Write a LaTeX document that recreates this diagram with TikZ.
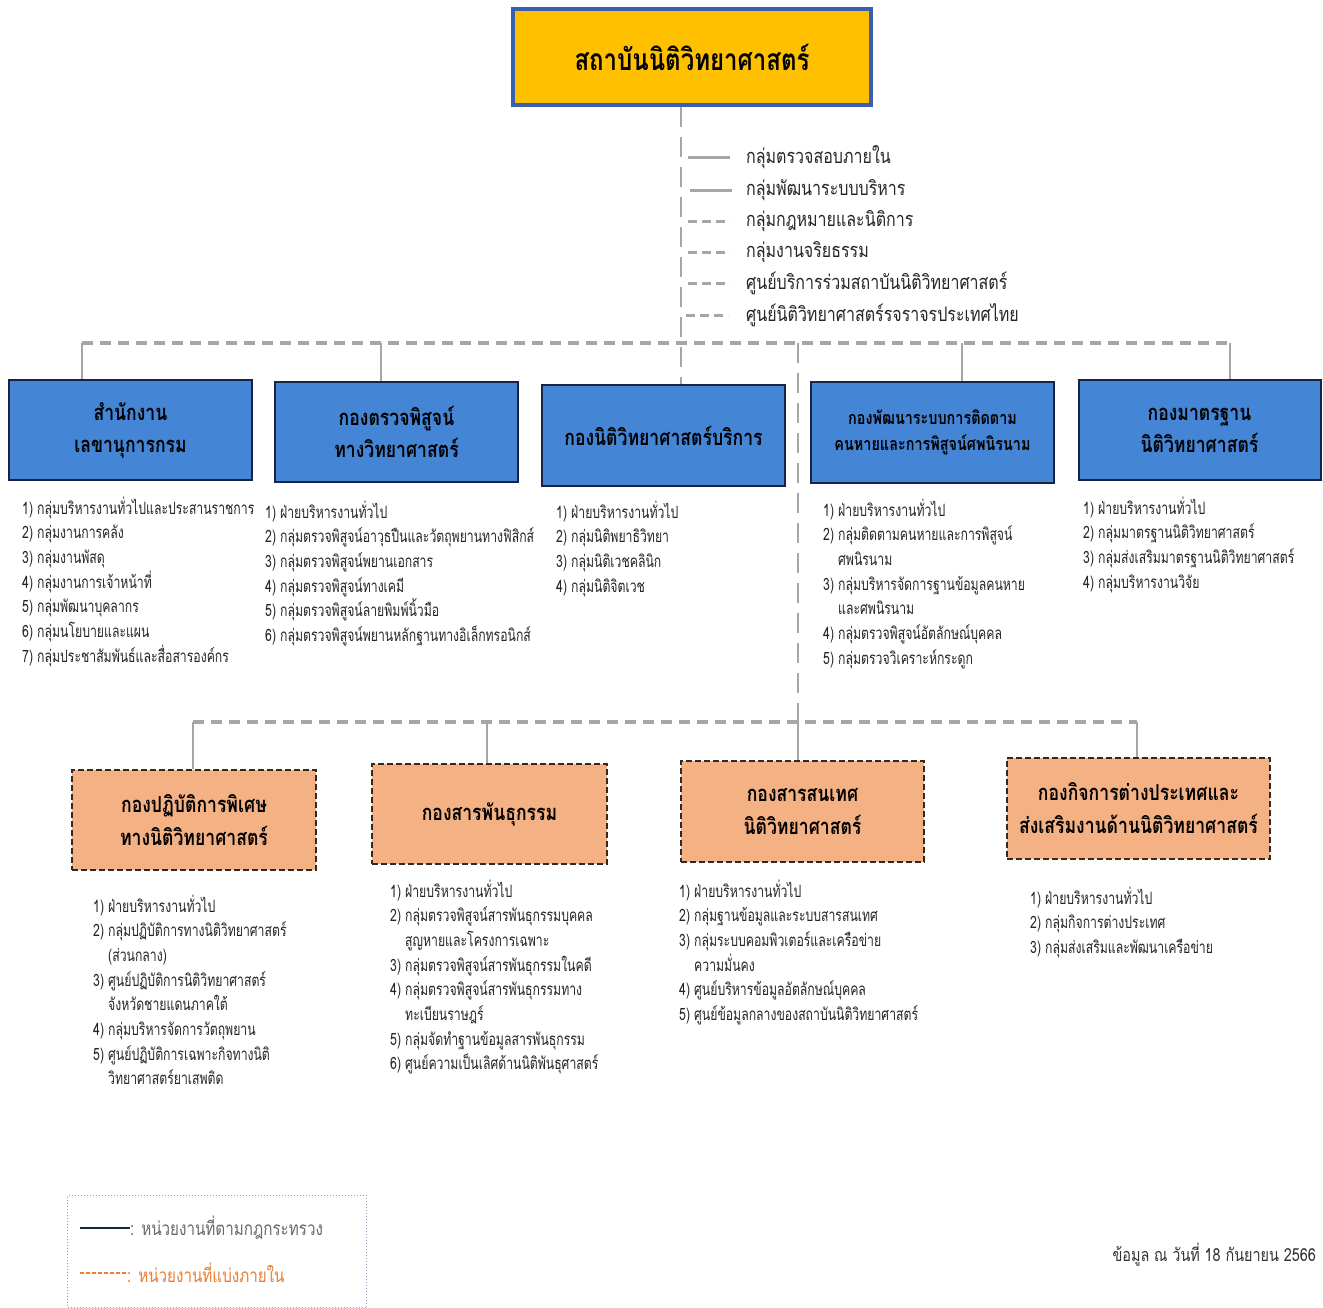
\documentclass[tikz,border=0pt]{standalone}
\usepackage{fontspec}
\setmainfont[Script=Thai,FakeStretch=0.8]{Loma}
\newfontfamily\listfont[Script=Thai,FakeStretch=0.72]{Loma}
\newcommand\ind{\phantom{1) }}
\definecolor{boxblue}{RGB}{68,133,214}
\definecolor{navy}{RGB}{22,37,70}
\definecolor{gold}{RGB}{255,192,0}
\definecolor{topborder}{RGB}{58,95,175}
\definecolor{orangefill}{RGB}{244,177,131}
\definecolor{linegray}{RGB}{166,166,166}
\definecolor{dashbrown}{RGB}{55,40,30}
\definecolor{legendorange}{RGB}{237,125,49}
\definecolor{legendtext}{RGB}{105,105,105}
\definecolor{legendframe}{RGB}{150,160,190}
\begin{document}
\begin{tikzpicture}[x=1pt,y=-1pt,
  bluebox/.style={draw=navy,line width=2pt,fill=boxblue,align=center,inner sep=0pt,
    font=\bfseries\fontsize{22}{32}\selectfont,text=black},
  orangebox/.style={draw=dashbrown,line width=2.2pt,dash pattern=on 6pt off 3pt,fill=orangefill,
    align=center,inner sep=0pt,font=\bfseries\fontsize{22}{33}\selectfont,text=black},
  listtext/.style={anchor=base west,align=left,inner sep=0pt,font=\listfont\fontsize{17}{24.7}\selectfont,text=black!85},
  legtext/.style={anchor=west,inner sep=0pt,font=\fontsize{20}{24}\selectfont,text=black!85},
  thickdash/.style={draw=linegray,line width=4pt,dash pattern=on 11pt off 7pt},
  longdash/.style={draw=linegray,line width=2.5pt,dash pattern=on 20pt off 10pt},
  drop/.style={draw=linegray,line width=1.5pt},
  minisolid/.style={draw=linegray,line width=3pt},
  minidash/.style={draw=linegray,line width=3pt,dash pattern=on 9pt off 5pt}]
\useasboundingbox (0,0) rectangle (1323,1307);
\fill[white] (0,0) rectangle (1323,1307);

% top box
\node[draw=topborder,line width=4pt,fill=gold,minimum width=358pt,minimum height=96pt,inner sep=0pt,
  font=\bfseries\fontsize{30}{36}\selectfont] (top) at (692,57) {สถาบันนิติวิทยาศาสตร์};

% legend of staff units
\node[legtext] (g1) at (746,157) {กลุ่มตรวจสอบภายใน};
\node[legtext] (g2) at (746,190) {กลุ่มพัฒนาระบบบริหาร};
\node[legtext] (g3) at (746,221) {กลุ่มกฎหมายและนิติการ};
\node[legtext] (g4) at (746,252) {กลุ่มงานจริยธรรม};
\node[legtext] (g5) at (746,283) {ศูนย์บริการร่วมสถาบันนิติวิทยาศาสตร์};
\node[legtext] (g6) at (746,315) {ศูนย์นิติวิทยาศาสตร์รจราจรประเทศไทย};
\draw[minisolid] ([xshift=-58pt]g1.west) -- ([xshift=-16pt]g1.west);
\draw[minisolid] ([xshift=-56pt]g2.west) -- ([xshift=-14pt]g2.west);
\draw[minidash] ([xshift=-58pt]g3.west) -- ([xshift=-16pt]g3.west);
\draw[minidash] ([xshift=-58pt]g4.west) -- ([xshift=-16pt]g4.west);
\draw[minidash] ([xshift=-58pt]g5.west) -- ([xshift=-16pt]g5.west);
\draw[minidash] ([xshift=-60pt]g6.west) -- ([xshift=-18pt]g6.west);

% top row boxes
\node[bluebox,minimum width=243pt,minimum height=100pt] (b1) at (130.5,430) {สำนักงาน\\เลขานุการกรม};
\node[bluebox,minimum width=243pt,minimum height=100pt] (b2) at (396.5,432) {กองตรวจพิสูจน์\\ทางวิทยาศาสตร์};
\node[bluebox,minimum width=243pt,minimum height=101pt] (b3) at (663.5,435.5) {กองนิติวิทยาศาสตร์บริการ};
\node[bluebox,minimum width=243pt,minimum height=101pt,font=\bfseries\fontsize{18}{26}\selectfont] (b4) at (932.5,432.5) {กองพัฒนาระบบการติดตาม\\คนหายและการพิสูจน์ศพนิรนาม};
\node[bluebox,minimum width=242pt,minimum height=100pt] (b5) at (1199.5,430) {กองมาตรฐาน\\นิติวิทยาศาสตร์};

% top row connectors
\coordinate (h1) at (82,343);
\coordinate (h2) at (381,343);
\coordinate (h3) at (681,343);
\coordinate (h4) at (962,343);
\coordinate (h5) at (1230,343);
\coordinate (hv) at (798,343);
\draw[longdash] (top.south -| h3) -- (b3.north -| h3);
\draw[thickdash] (h1) -- (h5);
\draw[drop] (h1) -- (h1 |- b1.north);
\draw[drop] (h2) -- (h2 |- b2.north);
\draw[drop] (h4) -- (h4 |- b4.north);
\draw[drop] (h5) -- (h5 |- b5.north);

% top row lists (node base = baseline of last line)
\node[listtext] (l1) at (22,662.2) {1) กลุ่มบริหารงานทั่วไปและประสานราชการ\\2) กลุ่มงานการคลัง\\3) กลุ่มงานพัสดุ\\4) กลุ่มงานการเจ้าหน้าที่\\5) กลุ่มพัฒนาบุคลากร\\6) กลุ่มนโยบายและแผน\\7) กลุ่มประชาสัมพันธ์และสื่อสารองค์กร};
\node[listtext] (l2) at (265,641.5) {1) ฝ่ายบริหารงานทั่วไป\\2) กลุ่มตรวจพิสูจน์อาวุธปืนและวัตถุพยานทางฟิสิกส์\\3) กลุ่มตรวจพิสูจน์พยานเอกสาร\\4) กลุ่มตรวจพิสูจน์ทางเคมี\\5) กลุ่มตรวจพิสูจน์ลายพิมพ์นิ้วมือ\\6) กลุ่มตรวจพิสูจน์พยานหลักฐานทางอิเล็กทรอนิกส์};
\node[listtext] (l3) at (556,592.1) {1) ฝ่ายบริหารงานทั่วไป\\2) กลุ่มนิติพยาธิวิทยา\\3) กลุ่มนิติเวชคลินิก\\4) กลุ่มนิติจิตเวช};
\node[listtext] (l4) at (823,664.2) {1) ฝ่ายบริหารงานทั่วไป\\2) กลุ่มติดตามคนหายและการพิสูจน์\\\ind ศพนิรนาม\\3) กลุ่มบริหารจัดการฐานข้อมูลคนหาย\\\ind และศพนิรนาม\\4) กลุ่มตรวจพิสูจน์อัตลักษณ์บุคคล\\5) กลุ่มตรวจวิเคราะห์กระดูก};
\node[listtext] (l5) at (1083,588.1) {1) ฝ่ายบริหารงานทั่วไป\\2) กลุ่มมาตรฐานนิติวิทยาศาสตร์\\3) กลุ่มส่งเสริมมาตรฐานนิติวิทยาศาสตร์\\4) กลุ่มบริหารงานวิจัย};

% bottom row boxes
\node[orangebox,minimum width=244pt,minimum height=100pt] (o1) at (194,820) {กองปฏิบัติการพิเศษ\\ทางนิติวิทยาศาสตร์};
\node[orangebox,minimum width=235pt,minimum height=100pt] (o2) at (489.5,814) {กองสารพันธุกรรม};
\node[orangebox,minimum width=243pt,minimum height=101pt] (o3) at (802.5,811.5) {กองสารสนเทศ\\นิติวิทยาศาสตร์};
\node[orangebox,minimum width=263pt,minimum height=101pt] (o4) at (1138.5,808.5) {กองกิจการต่างประเทศและ\\ส่งเสริมงานด้านนิติวิทยาศาสตร์};

% bottom row connectors
\coordinate (k1) at (193,722);
\coordinate (k2) at (487,722);
\coordinate (k3) at (798,722);
\coordinate (k4) at (1137,722);
\draw[longdash] (hv) -- (k3);
\draw[thickdash] (k1) -- (k4);
\draw[drop] (k1) -- (k1 |- o1.north);
\draw[drop] (k2) -- (k2 |- o2.north);
\draw[drop] (k3) -- (k3 |- o3.north);
\draw[drop] (k4) -- (k4 |- o4.north);

% bottom row lists
\node[listtext] (m1) at (93,1084.9) {1) ฝ่ายบริหารงานทั่วไป\\2) กลุ่มปฏิบัติการทางนิติวิทยาศาสตร์\\\ind (ส่วนกลาง)\\3) ศูนย์ปฏิบัติการนิติวิทยาศาสตร์\\\ind จังหวัดชายแดนภาคใต้\\4) กลุ่มบริหารจัดการวัตถุพยาน\\5) ศูนย์ปฏิบัติการเฉพาะกิจทางนิติ\\\ind วิทยาศาสตร์ยาเสพติด};
\node[listtext] (m2) at (390,1069.9) {1) ฝ่ายบริหารงานทั่วไป\\2) กลุ่มตรวจพิสูจน์สารพันธุกรรมบุคคล\\\ind สูญหายและโครงการเฉพาะ\\3) กลุ่มตรวจพิสูจน์สารพันธุกรรมในคดี\\4) กลุ่มตรวจพิสูจน์สารพันธุกรรมทาง\\\ind ทะเบียนราษฎร์\\5) กลุ่มจัดทำฐานข้อมูลสารพันธุกรรม\\6) ศูนย์ความเป็นเลิศด้านนิติพันธุศาสตร์};
\node[listtext] (m3) at (679,1020.5) {1) ฝ่ายบริหารงานทั่วไป\\2) กลุ่มฐานข้อมูลและระบบสารสนเทศ\\3) กลุ่มระบบคอมพิวเตอร์และเครือข่าย\\\ind ความมั่นคง\\4) ศูนย์บริหารข้อมูลอัตลักษณ์บุคคล\\5) ศูนย์ข้อมูลกลางของสถาบันนิติวิทยาศาสตร์};
\node[listtext] (m4) at (1030,953.4) {1) ฝ่ายบริหารงานทั่วไป\\2) กลุ่มกิจการต่างประเทศ\\3) กลุ่มส่งเสริมและพัฒนาเครือข่าย};

% line-type legend
\node[draw=legendframe,dotted,line width=1pt,minimum width=299pt,minimum height=112pt,inner sep=0pt,anchor=north west] (lg) at (67,1195) {};
\node[anchor=west,inner sep=0pt,font=\fontsize{19}{22}\selectfont,text=legendtext] (lgA) at (130,1228) {: หน่วยงานที่ตามกฎกระทรวง};
\node[anchor=west,inner sep=0pt,font=\fontsize{19}{22}\selectfont,text=legendorange] (lgB) at (127,1273) {: หน่วยงานที่แบ่งภายใน};
\draw[navy,line width=1.2pt] ([xshift=-50pt]lgA.west) -- (lgA.west);
\draw[legendorange,line width=1.2pt,dash pattern=on 4pt off 2pt] ([xshift=-47pt]lgB.west) -- (lgB.west);

% date
\node[anchor=east,inner sep=0pt,font=\fontsize{18}{22}\selectfont,text=black!80] (date) at (1316,1255) {ข้อมูล ณ วันที่ 18 กันยายน 2566};
\end{tikzpicture}
\end{document}
